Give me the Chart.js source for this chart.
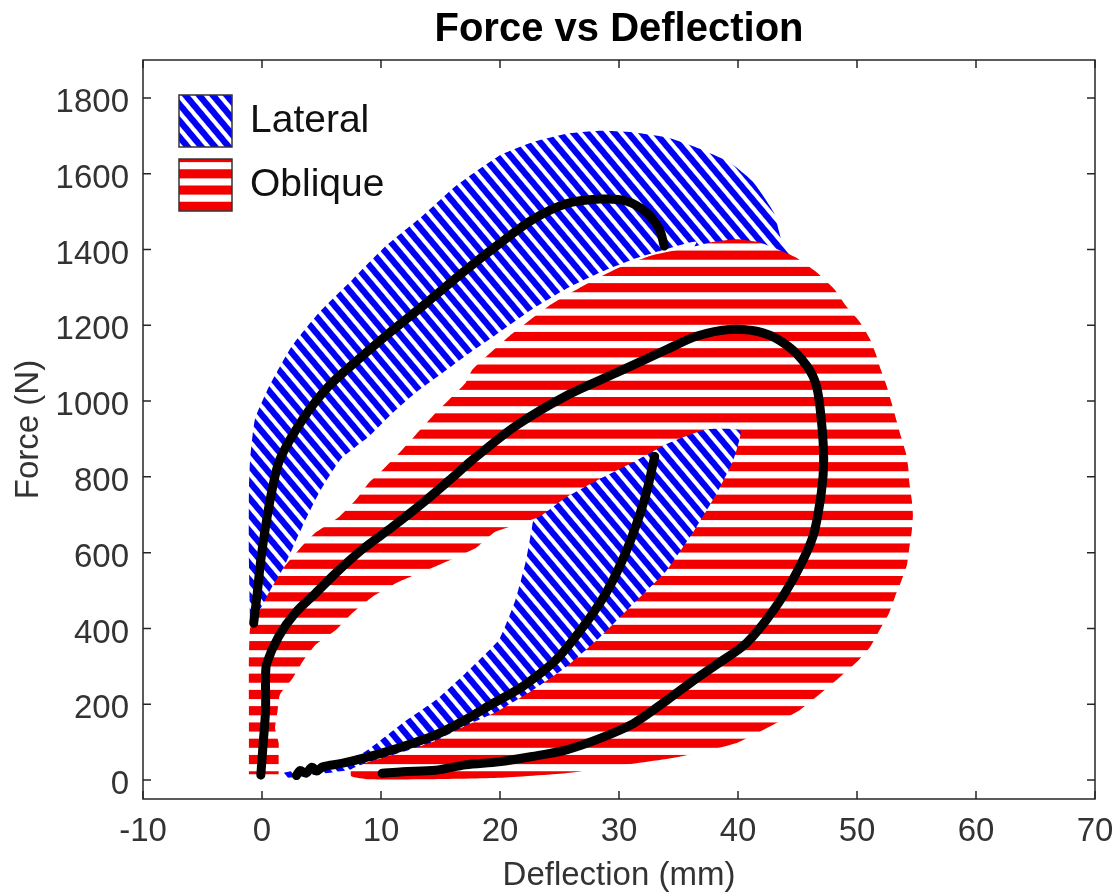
<!DOCTYPE html>
<html>
<head>
<meta charset="utf-8">
<title>Force vs Deflection</title>
<script src="https://cdn.jsdelivr.net/npm/chart.js@4.4.1/dist/chart.umd.min.js"></script>
<style>
  html, body { margin: 0; padding: 0; background: #fff; }
  #wrap { width: 1115px; height: 895px; }
</style>
</head>
<body>
<div id="wrap"><canvas id="forceChart" width="1115" height="895"></canvas></div>
<script>
// axis ticks
const xTickValues = [-10, 0, 10, 20, 30, 40, 50, 60, 70];
const yTickValues = [0, 200, 400, 600, 800, 1000, 1200, 1400, 1600, 1800];
const seriesNames = ['Lateral', 'Oblique'];

// mean curves, [deflection mm, force N]; null breaks the line
const lateralMean = [
  [-0.7, 414], [-0.4, 493], [-0.1, 581], [0.3, 669], [0.8, 758], [1.5, 846], [3.4, 951],
  [5.6, 1039], [8.1, 1110], [10.4, 1172], [13.5, 1251], [17.1, 1345],
  [19.9, 1414], [22.7, 1478], [25.5, 1520], [28.4, 1533], [30.6, 1528], [32.3, 1498],
  [33.4, 1453], [33.8, 1409],
  null,
  [33.0, 854], [32.3, 758], [31.4, 669], [30.3, 581], [28.9, 493], [27.0, 405], [24.7, 317],
  [21.9, 247], [19.4, 202], [17.1, 159], [14.6, 119], [11.8, 88], [9.0, 62], [6.7, 44],
  [5.1, 35], [4.6, 24], [4.2, 34], [3.7, 18], [3.2, 25], [2.9, 12]
];

const obliqueMean = [
  [-0.1, 13], [0.1, 97], [0.3, 185], [0.3, 273], [0.4, 308], [1.4, 379], [2.8, 441],
  [4.5, 493], [6.2, 546], [8.4, 608], [11.0, 669], [13.5, 731], [15.7, 790], [17.7, 845],
  [21.3, 934], [25.5, 1013], [29.8, 1075], [34.0, 1136], [36.5, 1171], [39.3, 1189],
  [42.1, 1180], [44.2, 1145], [45.8, 1092], [46.6, 1039], [47.0, 951], [47.2, 846],
  [47.0, 758], [46.3, 643], [44.9, 546], [43.0, 449], [40.7, 361], [38.2, 305],
  [36.5, 268], [34.0, 210], [31.2, 149], [28.4, 110], [25.5, 79], [22.7, 62], [19.9, 48],
  [17.1, 40], [14.6, 26], [11.8, 22], [10.1, 18]
];

// corridor outlines (closed shapes)
const lateralBand = [
  [-1.0, 414], [-1.1, 581], [-1.1, 758], [-1.0, 846], [-0.6, 951], [0.6, 1039], [2.5, 1145],
  [4.8, 1234], [7.6, 1321], [10.4, 1409], [13.5, 1489], [16.3, 1568], [19.9, 1647],
  [22.7, 1683], [25.5, 1705], [28.4, 1713], [31.2, 1709], [34.0, 1696], [36.5, 1669],
  [39.3, 1630], [41.3, 1577], [43.0, 1498], [43.8, 1409], [44.9, 1374], [46.0, 1250],
  [45.0, 1050], [42.5, 950], [40.8, 925], [40.4, 846], [39.0, 756], [37.3, 667],
  [34.8, 553], [32.0, 465], [29.2, 377], [26.3, 297], [23.5, 215], [20.0, 170],
  [17.1, 130], [14.6, 92], [11.8, 62], [9.0, 40], [7.0, 25], [4.0, 12], [2.0, 6],
  [1.6, 12], [1.9, 20], [5.0, 40], [8.4, 70], [11.8, 150], [14.6, 211], [17.1, 282],
  [19.9, 370], [21.3, 476], [22.2, 581], [22.7, 669], [23.0, 713], [36.5, 1418],
  [34.0, 1401], [31.2, 1374], [28.4, 1339], [25.5, 1295], [22.7, 1242], [19.9, 1180],
  [17.1, 1119], [15.2, 1075], [12.9, 1022], [11.0, 969], [9.0, 907], [6.6, 846],
  [4.8, 758], [3.4, 669], [2.0, 572], [0.8, 493], [0.0, 458]
];

const obliqueBand = [
  [-1.1, 15], [-1.1, 100], [-1.1, 200], [-1.1, 300], [-1.0, 400], [-0.3, 441], [0.4, 484],
  [1.1, 523], [2.0, 568], [3.1, 608], [4.5, 653], [6.5, 695], [7.9, 740], [9.0, 785],
  [10.4, 827], [11.8, 872], [14.6, 969], [17.1, 1048], [17.7, 1084], [20.8, 1172],
  [24.1, 1251], [27.0, 1304], [29.7, 1348], [32.6, 1383], [36.5, 1409], [37.7, 1419],
  [39.9, 1427], [41.8, 1419], [44.8, 1380], [46.6, 1340], [48.1, 1295], [49.1, 1250],
  [50.2, 1210], [51.1, 1163], [51.6, 1123], [52.0, 1083], [52.5, 1039], [52.9, 996],
  [53.3, 951], [53.7, 906], [54.1, 864], [54.3, 827], [54.4, 785], [54.6, 740],
  [54.7, 700], [54.6, 655], [54.4, 613], [54.2, 568], [53.7, 523], [53.2, 484],
  [52.7, 441], [51.9, 396], [51.1, 351], [50.0, 312], [48.5, 270], [46.8, 225],
  [45.2, 185], [42.6, 140], [39.9, 98], [35.0, 61], [30.0, 38], [25.5, 18], [20.0, 6],
  [14.0, 2], [9.0, 2], [7.5, 10], [7.5, 28], [9.0, 48], [11.8, 74], [14.6, 104],
  [17.1, 143], [19.9, 183], [22.7, 236], [25.5, 297], [28.4, 377], [31.2, 465],
  [34.0, 553], [36.5, 667], [38.2, 756], [39.6, 844], [40.2, 922], [37.3, 925],
  [34.1, 888], [31.1, 837], [28.3, 793], [25.5, 745], [23.3, 695], [19.6, 655],
  [18.0, 613], [14.9, 568], [11.5, 523], [9.3, 484], [7.6, 441], [6.2, 396], [4.5, 357],
  [3.4, 312], [2.6, 270], [1.5, 225], [1.3, 180], [1.1, 137], [1.4, 98], [1.4, 53],
  [1.4, 15]
];

const FONT = "'Liberation Sans', Arial, Helvetica, sans-serif";
const canvas = document.getElementById('forceChart');
const ctx = canvas.getContext('2d');

// striped fill: one stripe per tile, then scaled/rotated into place
function stripes(color, tileSize, thick, matrix) {
  const tile = document.createElement('canvas');
  tile.width = tileSize;
  tile.height = tileSize;
  const g = tile.getContext('2d');
  g.fillStyle = '#fff';
  g.fillRect(0, 0, tileSize, tileSize);
  g.fillStyle = color;
  g.fillRect(0, 0, tileSize, thick);
  const p = ctx.createPattern(tile, 'repeat');
  p.setTransform(matrix);
  return p;
}

const blueHatch = stripes('#0000f2', 10, 6, new DOMMatrix().rotate(50).scale(1, 1.05));
const redHatch = stripes('#f20000', 16, 9, new DOMMatrix().translate(0, 6.5).scale(1, 16.27 / 16));

const toPoints = list => list.map(p => (p ? { x: p[0], y: p[1] } : { x: null, y: null }));

const meanLine = {
  borderColor: '#000',
  borderWidth: 9,
  borderCapStyle: 'round',
  borderJoinStyle: 'round',
  pointRadius: 0,
  tension: 0.3,
  fill: false
};

const bandShape = {
  borderColor: 'rgba(0,0,0,0)',
  borderWidth: 0,
  pointRadius: 0,
  tension: 0.15,
  fill: 'shape'
};

// frame with inward ticks on all four sides, plus the legend inside the axes
const frameAndLegend = {
  id: 'frameAndLegend',
  afterDatasetsDraw(chart) {
    const { ctx, chartArea: a, scales: { x, y } } = chart;
    ctx.save();
    ctx.strokeStyle = '#262626';
    ctx.lineWidth = 1.5;
    ctx.strokeRect(a.left, a.top, a.right - a.left, a.bottom - a.top);

    const tl = 8;
    ctx.beginPath();
    xTickValues.forEach(v => {
      const px = x.getPixelForValue(v);
      ctx.moveTo(px, a.bottom); ctx.lineTo(px, a.bottom - tl);
      ctx.moveTo(px, a.top); ctx.lineTo(px, a.top + tl);
    });
    yTickValues.forEach(v => {
      const py = y.getPixelForValue(v);
      ctx.moveTo(a.left, py); ctx.lineTo(a.left + tl, py);
      ctx.moveTo(a.right, py); ctx.lineTo(a.right - tl, py);
    });
    ctx.stroke();

    const boxW = 53, boxH = 52;
    seriesNames.forEach((name, i) => {
      const ds = chart.data.datasets.find(d => d.label === name);
      const bx = a.left + 36;
      const by = a.top + 35 + i * 64;
      ctx.fillStyle = ds.backgroundColor;
      ctx.fillRect(bx, by, boxW, boxH);
      ctx.strokeStyle = '#333';
      ctx.lineWidth = 1.5;
      ctx.strokeRect(bx, by, boxW, boxH);
      ctx.fillStyle = '#111';
      ctx.font = '39px ' + FONT;
      ctx.textAlign = 'left';
      ctx.textBaseline = 'middle';
      ctx.fillText(name, bx + 71, by + boxH / 2);
    });
    ctx.restore();
  }
};

new Chart(ctx, {
  type: 'line',
  data: {
    datasets: [
      Object.assign({ label: 'Lateral mean', data: toPoints(lateralMean), order: 0 }, meanLine),
      Object.assign({ label: 'Oblique mean', data: toPoints(obliqueMean), order: 1 }, meanLine),
      Object.assign({ label: 'Oblique', data: toPoints(obliqueBand), backgroundColor: redHatch, order: 2 }, bandShape),
      Object.assign({ label: 'Lateral', data: toPoints(lateralBand), backgroundColor: blueHatch, order: 3 }, bandShape)
    ]
  },
  options: {
    responsive: false,
    animation: false,
    layout: { padding: { left: 0, right: 20, top: 0, bottom: 0 } },
    plugins: {
      legend: { display: false },
      tooltip: { enabled: false },
      title: {
        display: true,
        text: 'Force vs Deflection',
        fullSize: false,
        color: '#000',
        font: { family: FONT, size: 40, weight: 'bold', lineHeight: 1.2 },
        padding: { top: 6, bottom: 6 }
      }
    },
    scales: {
      x: {
        type: 'linear',
        min: -10,
        max: 70,
        afterBuildTicks: s => { s.ticks = xTickValues.map(v => ({ value: v })); },
        afterFit: s => { s.height = 96; s.paddingLeft = 0; s.paddingRight = 0; },
        grid: { display: false, drawTicks: false },
        border: { display: false },
        ticks: {
          color: '#333', font: { family: FONT, size: 33 }, padding: 13,
          maxRotation: 0, autoSkip: false, callback: v => String(v)
        },
        title: {
          display: true,
          text: 'Deflection (mm)',
          color: '#333',
          font: { family: FONT, size: 33, lineHeight: 1.15 },
          padding: { top: 0, bottom: 0 }
        }
      },
      y: {
        type: 'linear',
        min: -50,
        max: 1900,
        afterBuildTicks: s => { s.ticks = yTickValues.map(v => ({ value: v })); },
        afterFit: s => { s.width = 143; },
        grid: { display: false, drawTicks: false },
        border: { display: false },
        ticks: {
          color: '#333', font: { family: FONT, size: 33 }, padding: 14, labelOffset: 5,
          autoSkip: false, callback: v => String(v)
        },
        title: {
          display: true,
          text: 'Force (N)',
          color: '#333',
          font: { family: FONT, size: 33, lineHeight: 1.2 },
          padding: { top: 9, bottom: 0 }
        }
      }
    }
  },
  plugins: [frameAndLegend]
});
</script>
</body>
</html>
